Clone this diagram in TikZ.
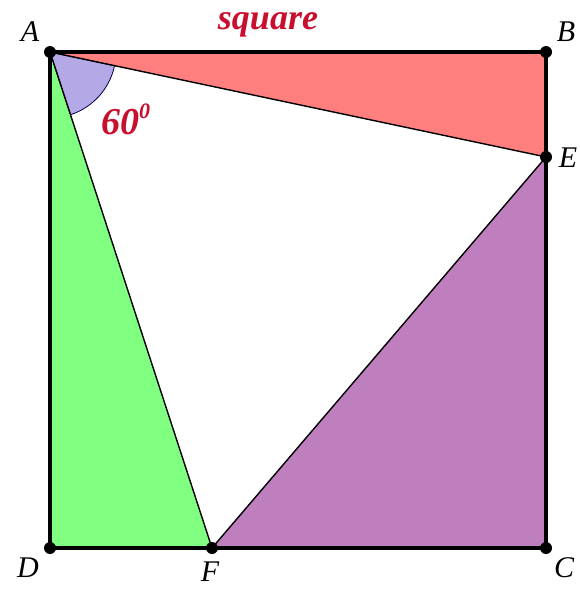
\documentclass[tikz,border=0pt]{standalone}
\usepackage{fontspec}
\setmainfont{Liberation Serif}
\begin{document}
\begin{tikzpicture}[x=1pt,y=-1pt,
  lbl/.style={font=\itshape\fontsize{30}{30}\selectfont, inner sep=0pt},
  thin line/.style={draw=black, line width=1.4pt}]
\definecolor{pinkfill}{HTML}{FF7F7F}
\definecolor{greenfill}{HTML}{80FF80}
\definecolor{purplefill}{HTML}{BF7FBF}
\definecolor{anglefill}{HTML}{B4A8E6}
\definecolor{titlered}{HTML}{C8102E}
\useasboundingbox (0,0) rectangle (580,589);
\coordinate (A) at (50,52);
\coordinate (B) at (546,52);
\coordinate (C) at (546,548);
\coordinate (D) at (50,548);
\coordinate (E) at (546,157);
\coordinate (F) at (212,548);
\fill[pinkfill] (A) -- (B) -- (E) -- cycle;
\fill[greenfill] (A) -- (D) -- (F) -- cycle;
\fill[purplefill] (E) -- (C) -- (F) -- cycle;
\fill[anglefill, draw=black!70!blue, line width=0.8pt] (A) -- ++(11.95:66) arc[start angle=11.95, end angle=71.9, radius=66] -- cycle;
\draw[thin line] (A) -- (E) -- (F) -- cycle;
\draw[line width=4pt] (A) -- (B) -- (C) -- (D) -- cycle;
\foreach \p in {A,B,C,D,E,F} \fill (\p) circle (6);
\node[lbl] (lA) at (30,32) {A};
\node[lbl] (lB) at (566,32) {B};
\node[lbl] (lE) at (568,158) {E};
\node[lbl] (lD) at (28,568) {D};
\node[lbl] (lF) at (210,572) {F};
\node[lbl] (lC) at (564,568) {C};
\node[font=\bfseries\itshape\fontsize{36}{36}\selectfont, text=titlered, inner sep=0pt] (title) at (268,25) {square};
\node[font=\bfseries\itshape\fontsize{38}{38}\selectfont, text=titlered, inner sep=0pt, anchor=west] (ang) at (101,119) {60\raisebox{0.42em}{\fontsize{22}{22}\selectfont 0}};
\end{tikzpicture}
\end{document}
